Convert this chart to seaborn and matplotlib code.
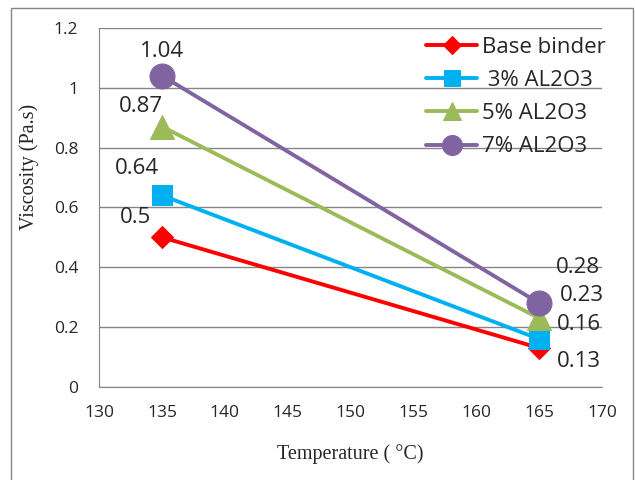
import numpy as np
import pandas as pd
import matplotlib.pyplot as plt
import seaborn as sns
from matplotlib.patches import Rectangle

# data
temps = [135, 165]
series = ['Base binder', ' 3% AL2O3', '5% AL2O3', '7% AL2O3']
base_binder = [0.5, 0.13]
al2o3_3 = [0.64, 0.16]
al2o3_5 = [0.87, 0.23]
al2o3_7 = [1.04, 0.28]
colors = ['#FF0000', '#00B0F0', '#9BBB59', '#8064A2']
markers = ['D', 's', '^', 'o']
msizes = [11, 15, 17, 18]

values = [base_binder, al2o3_3, al2o3_5, al2o3_7]
df = pd.DataFrame({
    'Temperature': temps * len(series),
    'Viscosity': sum(values, []),
    'Series': np.repeat(series, len(temps)),
})

sns.set_style('white')
plt.rcParams['font.family'] = ['Open Sans', 'DejaVu Sans']

fig = plt.figure(figsize=(6.35, 4.8), dpi=100)
ax = fig.add_axes([0.156, 0.194, 0.792, 0.748])

for name, c, m, ms in zip(series, colors, markers, msizes):
    sns.lineplot(data=df[df['Series'] == name], x='Temperature', y='Viscosity',
                 color=c, marker=m, markersize=ms, markeredgecolor=c,
                 linewidth=2.8, label=name, ax=ax)

ax.set_xlim(130, 170)
ax.set_ylim(0, 1.2)
ax.set_xticks(range(130, 171, 5))
ax.set_yticks(np.arange(0, 1.21, 0.2))
ax.set_yticklabels(['0', '0.2', '0.4', '0.6', '0.8', '1', '1.2'])
ax.tick_params(labelsize=12.5, length=5, color='#868686', direction='out')
ax.tick_params(axis='x', pad=8)
ax.tick_params(axis='y', pad=10)
ax.yaxis.grid(True, color='#868686', linewidth=1)
ax.set_axisbelow(True)
for s in ['top', 'right']:
    ax.spines[s].set_visible(False)
for s in ['left', 'bottom']:
    ax.spines[s].set_color('#868686')

ax.set_xlabel('Temperature ( °C)', family='Liberation Serif', fontsize=14.5)
ax.set_ylabel('Viscosity (Pa.s)', family='Liberation Serif', fontsize=14.5)
ax.xaxis.set_label_coords(0.5, -0.159)
ax.yaxis.set_label_coords(-0.119, 0.613)

# data labels
left_off = [(-2.1, 0.065), (-2.0, 0.09), (-1.7, 0.066), (0.0, 0.08)]
right_off = [(3.2, -0.046), (3.2, 0.047), (3.4, 0.077), (3.1, 0.12)]
for v, lo, ro in zip(values, left_off, right_off):
    ax.text(temps[0] + lo[0], v[0] + lo[1], f'{v[0]:g}', fontsize=16, ha='center', va='center')
    ax.text(temps[1] + ro[0], v[1] + ro[1], f'{v[1]:g}', fontsize=16, ha='center', va='center')

leg = ax.legend(loc='upper left', bbox_to_anchor=(0.65, 0.975), frameon=False,
                fontsize=16, handlelength=2.3, labelspacing=0.55, borderaxespad=0,
                borderpad=0, handletextpad=0.2, markerscale=0.8)

fig.patches.append(Rectangle((0.017, -0.01), 0.98, 0.993, transform=fig.transFigure,
                             fill=False, edgecolor='#868686', linewidth=1))

plt.savefig('out.png', dpi=100)
